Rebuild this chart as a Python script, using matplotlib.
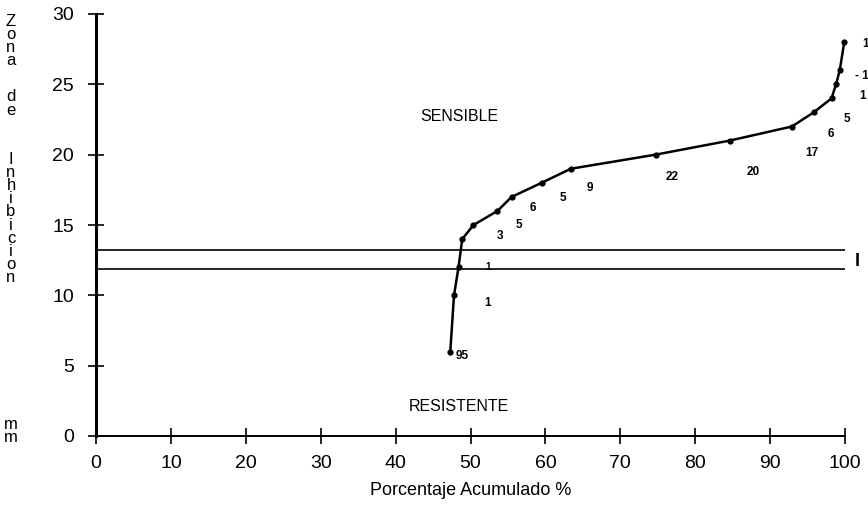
import matplotlib
matplotlib.use("Agg")
import matplotlib.pyplot as plt

# zona de inhibicion (mm) vs porcentaje acumulado
zona_mm = [6, 10, 12, 14, 15, 16, 17, 18, 19, 20, 21, 22, 23, 24, 25, 26, 28]
pct_acum = [47.3, 47.8, 48.4, 48.9, 50.4, 53.6, 55.5, 59.5, 63.4, 74.7,
            84.6, 92.9, 95.8, 98.2, 98.8, 99.3, 99.9]

# numero de cepas escrito junto a la curva
conteos = ["95", "1", "1", "3", "5", "6", "5", "9", "22", "20", "17", "6", "5", "1", "- 1", "1"]
conteo_x = [48.9, 52.3, 52.3, 53.9, 56.5, 58.3, 62.3, 66.0, 76.9, 87.7,
            95.6, 98.1, 100.3, 102.4, 102.2, 102.8]
conteo_y = [5.7, 9.45, 12.0, 14.2, 15.0, 16.2, 16.9, 17.6, 18.4, 18.8,
            20.1, 21.5, 22.5, 24.2, 25.6, 27.9]

# puntos de corte
cortes = [13.2, 11.9]

x_ticks = list(range(0, 101, 10))
y_ticks = list(range(0, 31, 5))

plt.rcParams['font.family'] = ['Liberation Sans', 'DejaVu Sans']

fig = plt.figure(figsize=(8.68, 5.05), dpi=100)
ax = fig.add_axes([96 / 868, 1 - 436 / 505, 749 / 868, 422 / 505])

ax.plot(pct_acum, zona_mm, color="black", lw=1.8, marker="o", ms=3.5,
        clip_on=False, zorder=3)
for yc in cortes:
    ax.plot([0, 100], [yc, yc], color="black", lw=1.2)

for t, xx, yy in zip(conteos, conteo_x, conteo_y):
    fs = 7 if t == "1" and yy == 12.0 else 8.5
    ax.text(xx, yy, t, fontsize=fs, fontweight="bold", ha="center",
            va="center", clip_on=False)

ax.text(101.7, 12.4, "I", fontsize=13, fontweight="bold", ha="center",
        va="center", clip_on=False)
ax.text(48.5, 22.7, "SENSIBLE", fontsize=11.5, ha="center", va="center")
ax.text(48.5, 2.1, "RESISTENTE", fontsize=11.5, ha="center", va="center")

ax.set_xlim(0, 100)
ax.set_ylim(0, 30)
ax.set_xticks(x_ticks)
ax.set_yticks(y_ticks)
ax.spines["top"].set_visible(False)
ax.spines["right"].set_visible(False)
ax.spines["left"].set_linewidth(2.2)
ax.spines["bottom"].set_linewidth(1.4)
ax.tick_params(direction="inout", length=12, width=1.2, labelsize=14,
               pad=8)
ax.tick_params(axis="y", pad=10)

ax.set_xlabel("Porcentaje Acumulado %", fontsize=13, labelpad=7)

# etiqueta vertical, una letra por renglon
palabras = ["Zona", "de", "Inhibicion", "mm"]
centro_px = [41, 103.5, 218.5, 431]
for w, py in zip(palabras, centro_px):
    fig.text(11 / 868, 1 - py / 505, "\n".join(w), fontsize=12,
             linespacing=0.84, ha="center", va="center")

fig.savefig("out.png", dpi=100)
